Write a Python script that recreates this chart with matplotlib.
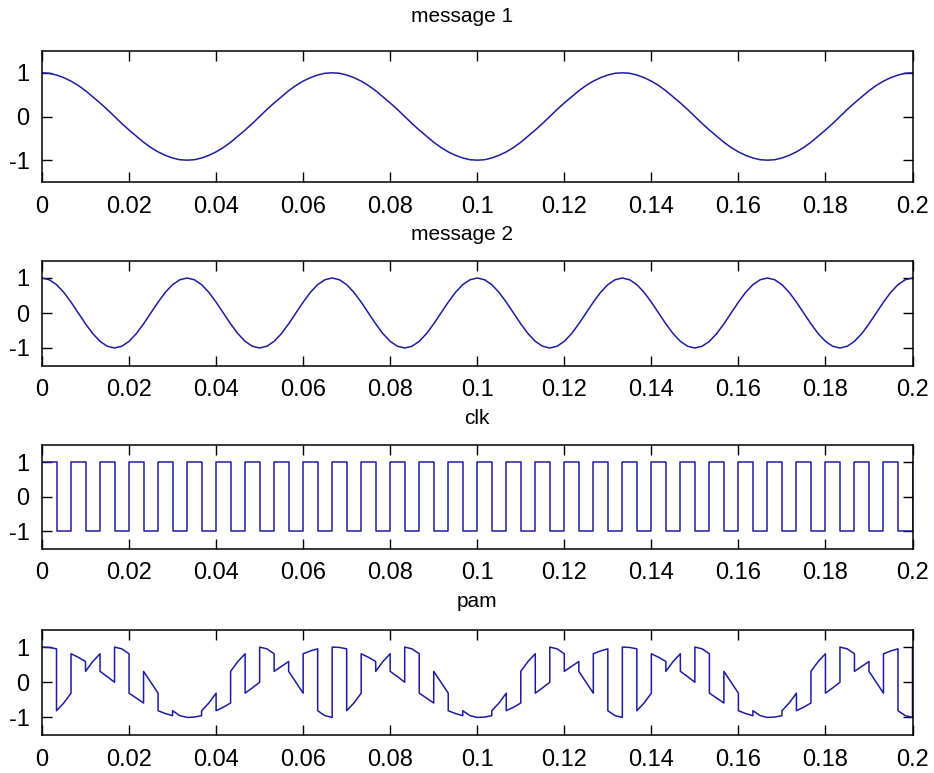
import numpy as np
import matplotlib
matplotlib.use("Agg")
import matplotlib.pyplot as plt

# ---- signal data (sampled every 1/600 s over 0 ... 0.2 s) ----
t_start, t_end = 0.0, 0.2

message1 = [
    1.00, 0.99, 0.95, 0.89, 0.81, 0.71, 0.59, 0.45, 0.31, 0.16,
    0.00, -0.16, -0.31, -0.45, -0.59, -0.71, -0.81, -0.89, -0.95, -0.99,
    -1.00, -0.99, -0.95, -0.89, -0.81, -0.71, -0.59, -0.45, -0.31, -0.16,
    0.00, 0.16, 0.31, 0.45, 0.59, 0.71, 0.81, 0.89, 0.95, 0.99,
    1.00, 0.99, 0.95, 0.89, 0.81, 0.71, 0.59, 0.45, 0.31, 0.16,
    0.00, -0.16, -0.31, -0.45, -0.59, -0.71, -0.81, -0.89, -0.95, -0.99,
    -1.00, -0.99, -0.95, -0.89, -0.81, -0.71, -0.59, -0.45, -0.31, -0.16,
    0.00, 0.16, 0.31, 0.45, 0.59, 0.71, 0.81, 0.89, 0.95, 0.99,
    1.00, 0.99, 0.95, 0.89, 0.81, 0.71, 0.59, 0.45, 0.31, 0.16,
    0.00, -0.16, -0.31, -0.45, -0.59, -0.71, -0.81, -0.89, -0.95, -0.99,
    -1.00, -0.99, -0.95, -0.89, -0.81, -0.71, -0.59, -0.45, -0.31, -0.16,
    0.00, 0.16, 0.31, 0.45, 0.59, 0.71, 0.81, 0.89, 0.95, 0.99,
    1.00,
]

message2 = [
    1.00, 0.95, 0.81, 0.59, 0.31, 0.00, -0.31, -0.59, -0.81, -0.95,
    -1.00, -0.95, -0.81, -0.59, -0.31, 0.00, 0.31, 0.59, 0.81, 0.95,
    1.00, 0.95, 0.81, 0.59, 0.31, 0.00, -0.31, -0.59, -0.81, -0.95,
    -1.00, -0.95, -0.81, -0.59, -0.31, 0.00, 0.31, 0.59, 0.81, 0.95,
    1.00, 0.95, 0.81, 0.59, 0.31, 0.00, -0.31, -0.59, -0.81, -0.95,
    -1.00, -0.95, -0.81, -0.59, -0.31, 0.00, 0.31, 0.59, 0.81, 0.95,
    1.00, 0.95, 0.81, 0.59, 0.31, 0.00, -0.31, -0.59, -0.81, -0.95,
    -1.00, -0.95, -0.81, -0.59, -0.31, 0.00, 0.31, 0.59, 0.81, 0.95,
    1.00, 0.95, 0.81, 0.59, 0.31, 0.00, -0.31, -0.59, -0.81, -0.95,
    -1.00, -0.95, -0.81, -0.59, -0.31, 0.00, 0.31, 0.59, 0.81, 0.95,
    1.00, 0.95, 0.81, 0.59, 0.31, 0.00, -0.31, -0.59, -0.81, -0.95,
    -1.00, -0.95, -0.81, -0.59, -0.31, 0.00, 0.31, 0.59, 0.81, 0.95,
    1.00,
]

# clock level in each half period (1/300 s), 60 slots over 0.2 s, plus final sample
clk_levels = [
    1, -1, 1, -1, 1, -1, 1, -1, 1, -1, 1, -1, 1, -1, 1, -1, 1, -1, 1, -1,
    1, -1, 1, -1, 1, -1, 1, -1, 1, -1, 1, -1, 1, -1, 1, -1, 1, -1, 1, -1,
    1, -1, 1, -1, 1, -1, 1, -1, 1, -1, 1, -1, 1, -1, 1, -1, 1, -1, 1, -1,
]
clk_final = 1

titles = ["message 1", "message 2", "clk", "pam"]
xtick_vals = [0, 0.02, 0.04, 0.06, 0.08, 0.1, 0.12, 0.14, 0.16, 0.18, 0.2]
xtick_text = ["0", "0.02", "0.04", "0.06", "0.08", "0.1", "0.12", "0.14",
              "0.16", "0.18", "0.2"]
ytick_vals = [-1, 0, 1]
ytick_text = ["-1", "0", "1"]

# ---- assemble the drawn curves ----
m1 = np.array(message1)
m2 = np.array(message2)
t = np.linspace(t_start, t_end, len(m1))
n_slots = len(clk_levels)
edges = np.linspace(t_start, t_end, n_slots + 1)

# clock drawn as a step trace
clk_t = np.repeat(edges, 2)[1:-1]
clk_v = np.repeat(clk_levels, 2)
clk_t = np.append(clk_t, [t_end])
clk_v = np.append(clk_v, [clk_final])

# pam: message 1 while the clock is high, inverted message 2 while it is low
sub = (len(m1) - 1) // n_slots
pam_t, pam_v = [], []
for i, lvl in enumerate(clk_levels):
    idx = np.arange(i * sub, (i + 1) * sub + 1)
    src = m1 if lvl > 0 else -m2
    pam_t.extend(t[idx])
    pam_v.extend(src[idx])
pam_t.append(t_end)
pam_v.append(m1[-1] if clk_final > 0 else -m2[-1])

# ---- figure ----
plt.rcParams["font.family"] = ["Liberation Sans", "DejaVu Sans"]
fig = plt.figure(figsize=(9.34, 7.73), dpi=100)
fig.patch.set_facecolor("white")

W = 934.0
H = 773.0
left_px, right_px = 42.0, 912.5
boxes_px = [(51, 182), (260.5, 365.5), (445, 548.5), (629.5, 735)]
title_pads = [21, 15, 15, 16]
title_x = [0.482, 0.482, 0.5, 0.5]

line_color = "#1c1ca0"
series = [(t, m1), (t, m2), (clk_t, clk_v), (np.array(pam_t), np.array(pam_v))]

for k, ((top, bot), (xs, ys)) in enumerate(zip(boxes_px, series)):
    ax = fig.add_axes([left_px / W, 1 - bot / H, (right_px - left_px) / W, (bot - top) / H])
    ax.plot(xs, ys, color=line_color, lw=1.1)
    ax.set_xlim(t_start, t_end)
    ax.set_ylim(-1.5, 1.5)
    ax.set_xticks(xtick_vals, xtick_text)
    ax.set_yticks(ytick_vals, ytick_text)
    ax.tick_params(direction="in", length=7, width=1.0, top=True, right=True,
                   labelsize=17, colors="black")
    ax.tick_params(axis="x", pad=10)
    ax.tick_params(axis="y", pad=9)
    for sp in ax.spines.values():
        sp.set_linewidth(1.1)
        sp.set_color("black")
    ax.set_title(titles[k], fontsize=15, pad=title_pads[k], x=title_x[k])

fig.savefig("out.png", dpi=100, facecolor="white")
